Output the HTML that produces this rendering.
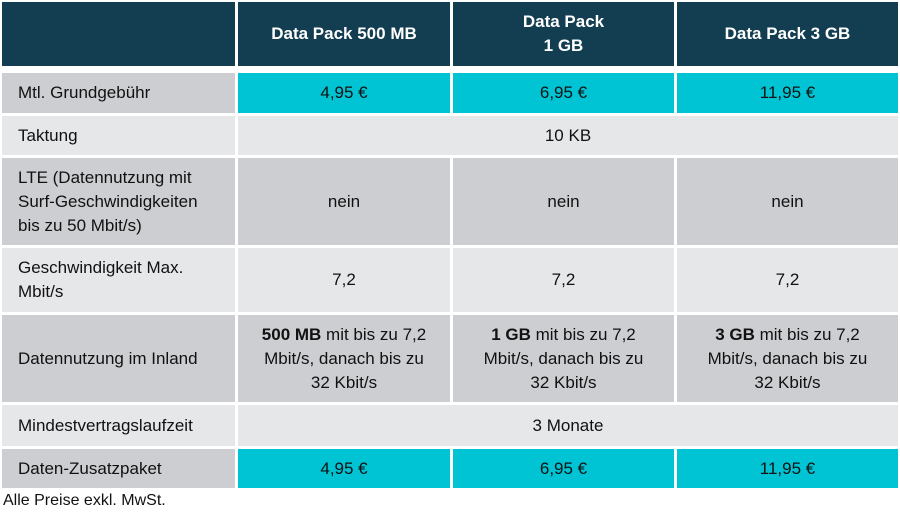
<!DOCTYPE html>
<html><head><meta charset="utf-8"><style>
body{margin:0;width:900px;height:522px;background:#fff;font-family:"Liberation Sans",Arial,sans-serif;position:relative;overflow:hidden}
.c{position:absolute;display:flex;align-items:center;justify-content:center;text-align:center;font-size:17px;color:#111;line-height:24px;box-sizing:border-box}
.l{justify-content:flex-start;text-align:left;padding-left:16px}
.h{background:#133d50;color:#fff;font-weight:bold}
.d{background:#cdced1}.g{background:#e6e7e9}.t{background:#00c4d4}
</style></head><body>
<div class="c h" style="left:2px;top:2px;width:233px;height:64px"></div>
<div class="c h" style="left:238px;top:2px;width:212px;height:64px">Data Pack 500 MB</div>
<div class="c h" style="left:453px;top:2px;width:221px;height:64px">Data Pack<br>1 GB</div>
<div class="c h" style="left:677px;top:2px;width:221px;height:64px">Data Pack 3 GB</div>

<div class="c l d" style="left:2px;top:73px;width:233px;height:40px">Mtl. Grundgebühr</div>
<div class="c t" style="left:238px;top:73px;width:212px;height:40px">4,95 €</div>
<div class="c t" style="left:453px;top:73px;width:221px;height:40px">6,95 €</div>
<div class="c t" style="left:677px;top:73px;width:221px;height:40px">11,95 €</div>

<div class="c l g" style="left:2px;top:116px;width:233px;height:39px">Taktung</div>
<div class="c g" style="left:238px;top:116px;width:660px;height:39px">10 KB</div>

<div class="c l d" style="left:2px;top:158px;width:233px;height:87px">LTE (Datennutzung mit<br>Surf-Geschwindigkeiten<br>bis zu 50 Mbit/s)</div>
<div class="c d" style="left:238px;top:158px;width:212px;height:87px">nein</div>
<div class="c d" style="left:453px;top:158px;width:221px;height:87px">nein</div>
<div class="c d" style="left:677px;top:158px;width:221px;height:87px">nein</div>

<div class="c l g" style="left:2px;top:248px;width:233px;height:64px">Geschwindigkeit Max.<br>Mbit/s</div>
<div class="c g" style="left:238px;top:248px;width:212px;height:64px">7,2</div>
<div class="c g" style="left:453px;top:248px;width:221px;height:64px">7,2</div>
<div class="c g" style="left:677px;top:248px;width:221px;height:64px">7,2</div>

<div class="c l d" style="left:2px;top:315px;width:233px;height:87px">Datennutzung im Inland</div>
<div class="c d" style="left:238px;top:315px;width:212px;height:87px"><span><b>500 MB</b> mit bis zu 7,2<br>Mbit/s, danach bis zu<br>32 Kbit/s</span></div>
<div class="c d" style="left:453px;top:315px;width:221px;height:87px"><span><b>1 GB</b> mit bis zu 7,2<br>Mbit/s, danach bis zu<br>32 Kbit/s</span></div>
<div class="c d" style="left:677px;top:315px;width:221px;height:87px"><span><b>3 GB</b> mit bis zu 7,2<br>Mbit/s, danach bis zu<br>32 Kbit/s</span></div>

<div class="c l g" style="left:2px;top:405px;width:233px;height:41px">Mindestvertragslaufzeit</div>
<div class="c g" style="left:238px;top:405px;width:660px;height:41px">3 Monate</div>

<div class="c l d" style="left:2px;top:449px;width:233px;height:39px">Daten-Zusatzpaket</div>
<div class="c t" style="left:238px;top:449px;width:212px;height:39px">4,95 €</div>
<div class="c t" style="left:453px;top:449px;width:221px;height:39px">6,95 €</div>
<div class="c t" style="left:677px;top:449px;width:221px;height:39px">11,95 €</div>

<div style="position:absolute;left:3px;top:492px;font-size:16px;color:#111">Alle Preise exkl. MwSt.</div>
</body></html>
